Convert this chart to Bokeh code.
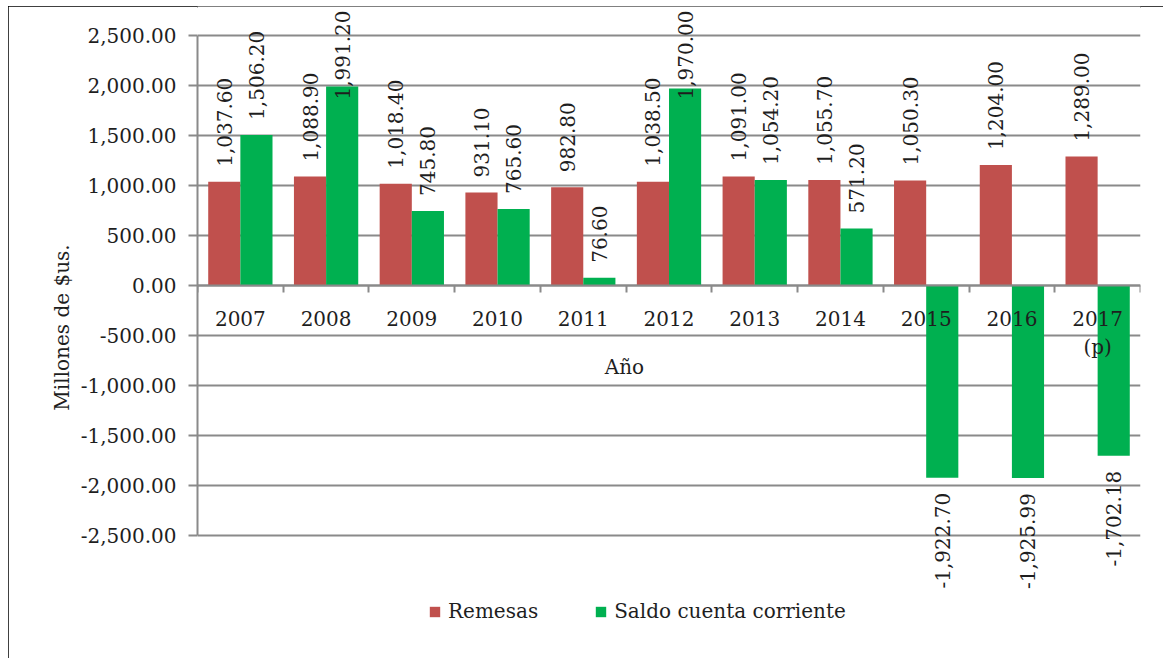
import numpy as np
from bokeh.plotting import figure
from bokeh.models import (FixedTicker, NumeralTickFormatter, Label, Legend, LegendItem)
from bokeh.core.properties import value
from bokeh.embed import file_html
from bokeh.resources import INLINE

years = ["2007", "2008", "2009", "2010", "2011", "2012", "2013", "2014", "2015", "2016", "2017\n(p)"]
remesas = [1037.60, 1088.90, 1018.40, 931.10, 982.80, 1038.50, 1091.00, 1055.70, 1050.30, 1204.00, 1289.00]
saldo = [1506.20, 1991.20, 745.80, 765.60, 76.60, 1970.00, 1054.20, 571.20, -1922.70, -1925.99, -1702.18]
y_ticks = [-2500, -2000, -1500, -1000, -500, 0, 500, 1000, 1500, 2000, 2500]

FONT = "DejaVu Serif"
FS = "20px"
TXT = "#1e1e1e"
GRAY = "#8a8a8a"
RED = "#C0504D"
GREEN = "#00B050"

n = len(years)
idx = np.arange(n)
bar_w = 0.375
x_rem = idx + 0.5 - bar_w / 2
x_sal = idx + 0.5 + bar_w / 2

Y_START, Y_END = -3630, 2790
LABEL_TOP = 2750      # labels are kept inside the chart area (data units)
LABEL_LEN = 1050      # approx. rotated label length + offset (data units)

p = figure(width=1155, height=652, x_range=(0, n), y_range=(Y_START, Y_END),
           output_backend="svg", toolbar_location=None,
           min_border_left=189, min_border_right=23, min_border_top=0, min_border_bottom=10)
p.outline_line_color = None
p.styles = {"margin-left": "8px", "margin-top": "6px",
            "box-shadow": "inset 2px 2px 0 0 #000, inset -2px 0 0 0 #000"}

r1 = p.vbar(x=x_rem, top=remesas, bottom=0, width=bar_w, fill_color=RED, line_color=None)
r2 = p.vbar(x=x_sal, top=saldo, bottom=0, width=bar_w, fill_color=GREEN, line_color=None)

common = dict(angle=np.pi / 2, text_baseline="middle", text_font=value(FONT),
              text_font_size=FS, text_color=TXT)

def add_labels(xs, vals):
    fit = [(x, v) for x, v in zip(xs, vals) if 0 <= v and v + LABEL_LEN <= LABEL_TOP]
    over = [(x, v) for x, v in zip(xs, vals) if v + LABEL_LEN > LABEL_TOP]
    neg = [(x, v) for x, v in zip(xs, vals) if v < 0]
    if fit:
        p.text(x=[a for a, _ in fit], y=[b for _, b in fit], text=[f"{b:,.2f}" for _, b in fit],
               text_align="left", y_offset=-15, **common)
    if over:
        p.text(x=[a for a, _ in over], y=[LABEL_TOP] * len(over), text=[f"{b:,.2f}" for _, b in over],
               text_align="right", **common)
    if neg:
        p.text(x=[a for a, _ in neg], y=[b for _, b in neg], text=[f"{b:,.2f}" for _, b in neg],
               text_align="right", y_offset=15, **common)

add_labels(x_rem, remesas)
add_labels(x_sal, saldo)

# Y axis
yax = p.yaxis[0]
yax.ticker = FixedTicker(ticks=y_ticks)
yax.bounds = (-2500, 2500)
yax.formatter = NumeralTickFormatter(format="0,0.00")
yax.axis_line_color = GRAY
yax.axis_line_width = 2
yax.major_tick_line_color = GRAY
yax.major_tick_line_width = 2
yax.major_tick_out = 9
yax.major_tick_in = 0
yax.minor_tick_line_color = None
yax.major_label_standoff = 12
yax.major_label_text_font = FONT
yax.major_label_text_font_size = FS
yax.major_label_text_color = TXT
yax.axis_label = "Millones de $us."
yax.axis_label_text_font = FONT
yax.axis_label_text_font_size = FS
yax.axis_label_text_font_style = "normal"
yax.axis_label_text_color = TXT
yax.axis_label_standoff = 4

p.ygrid.ticker = FixedTicker(ticks=y_ticks)
p.ygrid.grid_line_color = GRAY
p.ygrid.grid_line_width = 2
p.xgrid.visible = False

# X axis at zero
xax = p.xaxis[0]
xax.ticker = FixedTicker(ticks=[float(i + 0.5) for i in idx], minor_ticks=[float(i) for i in range(n + 1)])
xax.major_label_overrides = {float(i + 0.5): years[i] for i in idx}
xax.fixed_location = 0
xax.axis_line_color = GRAY
xax.axis_line_width = 2
xax.major_tick_line_color = None
xax.major_tick_out = 0
xax.major_tick_in = 0
xax.minor_tick_line_color = GRAY
xax.minor_tick_line_width = 2
xax.minor_tick_out = 7
xax.minor_tick_in = 0
xax.major_label_standoff = 14
xax.major_label_text_font = FONT
xax.major_label_text_font_size = FS
xax.major_label_text_color = TXT

p.add_layout(Label(x=4.98, y=-810, text="Año", text_align="center", text_baseline="middle",
                   text_font=FONT, text_font_size=FS, text_color=TXT))

legend = Legend(items=[LegendItem(label="Remesas", renderers=[r1]),
                       LegendItem(label="Saldo cuenta corriente", renderers=[r2])],
                orientation="horizontal", location=(231, 25),
                glyph_width=13, glyph_height=13, label_standoff=7, spacing=56,
                padding=0, margin=0, border_line_color=None, background_fill_alpha=0,
                label_text_font=FONT, label_text_font_size=FS, label_text_color=TXT)
p.add_layout(legend)

open("out.html", "w").write(file_html(p, INLINE))
